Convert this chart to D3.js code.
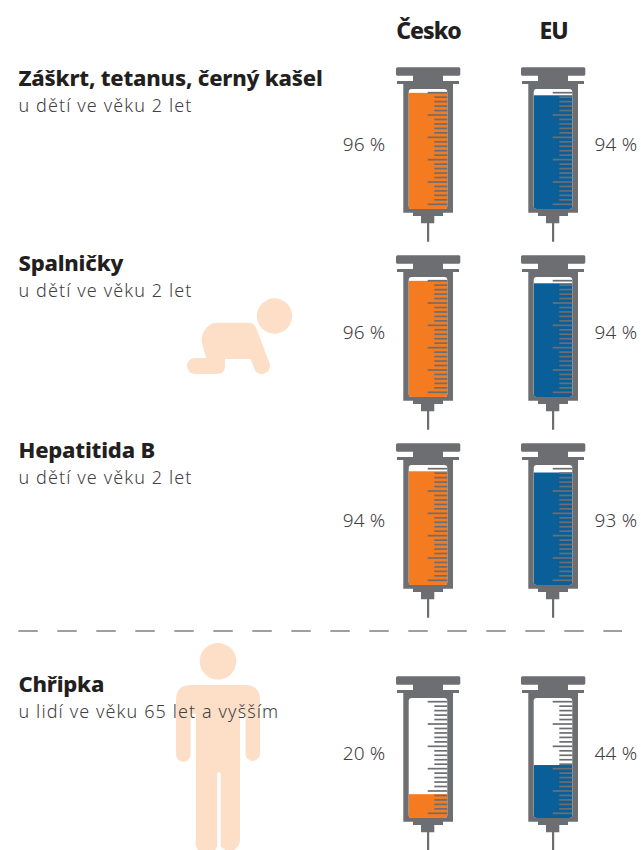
<!DOCTYPE html>
<html><head><meta charset="utf-8">
<script src="https://cdn.jsdelivr.net/npm/d3@7"></script>
<style>html,body{margin:0;padding:0;background:#fff}svg{display:block}</style>
</head><body><svg id="c" width="641" height="850"></svg>
<script>
const diseases = ["Záškrt, tetanus, černý kašel","Spalničky","Hepatitida B","Chřipka"];
const groups = ["u dětí ve věku 2 let","u dětí ve věku 2 let","u dětí ve věku 2 let","u lidí ve věku 65 let a vyšším"];
const czech = [96,96,94,20];
const eu = [94,94,93,44];
const columns = ["Česko","EU"];
const colors = ["#f47b20","#0b5f99"];
const gray = "#6d6e71", tint = "#fddfc8";
const offsets = [0,188,376,609];
const svg = d3.select("#c");
const F = "'Noto Sans',sans-serif";

// figures (behind text)
const fig = svg.append("g").attr("fill",tint);
fig.append("circle").attr("cx",274.5).attr("cy",316).attr("r",17.7);
fig.append("path").attr("d","M217 322.7H248Q254 322.7 256.5 328.5L269.2 362.5A7.9 7.9 0 0 1 254.5 369.5L250.5 359H225V366Q225 374 217 374H195A8 8 0 0 1 195 358H206L203 347Q200 337 204 331Q209 322.7 217 322.7Z");
fig.append("circle").attr("cx",218).attr("cy",661.3).attr("r",18.3);
fig.append("path").attr("d","M191 685H245Q260 685 260 700V754.5A7.3 7.3 0 0 1 245.5 754.5V716A2.6 2.6 0 0 0 240 716V840A10.5 10.5 0 0 1 220.7 846V774A1.7 1.7 0 0 0 217.3 774V846A10.5 10.5 0 0 1 196 840V716A2.6 2.6 0 0 0 190.6 716V754.5A7.3 7.3 0 0 1 176 754.5V700Q176 685 191 685Z");

// scales in the coordinates of the first syringe
const y = d3.scaleLinear().domain([0,100]).range([209.5,88]);
const tickY = d3.scaleLinear().domain([0,25]).range([204.3,92.7]);
const tickIdx = d3.range(26);
const colX = d3.scaleOrdinal().domain(columns).range([0,125]);

columns.forEach((col,ci)=>{
  const values = ci===0?czech:eu;
  const dx = colX(col);
  svg.append("text").text(col).attr("x",428.5+dx).attr("y",38.5)
    .attr("text-anchor","middle").attr("font-family",F).attr("font-weight",800)
    .attr("font-size",23).attr("letter-spacing",-1).attr("fill","#231f20");
  values.forEach((v,i)=>{
    const g = svg.append("g").attr("transform",`translate(${dx},${offsets[i]})`);
    const clipId = `c${ci}${i}`;
    g.append("clipPath").attr("id",clipId).append("rect")
      .attr("x",408.7).attr("y",89).attr("width",38.6).attr("height",120).attr("rx",3);
    // barrel
    g.append("path").attr("fill",gray).attr("d",
      "M397.5 67.3H459A1.5 1.5 0 0 1 460.3 68.8V74.2A1.5 1.5 0 0 1 459 75.7H443V81H459V84H453V212.7H443V216H434.3V223.3H429.2V241.7H427V223.3H421V216H413V212.7H403.3V84H397V81H413V75.7H397.5A1.5 1.5 0 0 1 396 74.2V68.8A1.5 1.5 0 0 1 397.5 67.3Z");
    g.append("rect").attr("x",408.7).attr("y",89).attr("width",38.6).attr("height",120).attr("rx",3).attr("fill","#fff");
    g.append("rect").attr("clip-path",`url(#${clipId})`).attr("x",408.7).attr("y",y(v))
      .attr("width",38.6).attr("height",y(0)-y(v)).attr("fill",colors[ci]);
    g.selectAll("line.t").data(tickIdx).join("line")
      .attr("x1",d=>d%5===0?427.7:434.3).attr("x2",447.3)
      .attr("y1",d=>tickY(d)).attr("y2",d=>tickY(d))
      .attr("stroke",gray).attr("stroke-width",1.7);
    g.append("text").text(v+" %").attr("font-family",F).attr("font-weight",300)
      .attr("font-size",19).attr("letter-spacing",0.2).attr("fill","#414042").attr("y",150.5)
      .attr("x",ci===0?385.5:469.5).attr("text-anchor",ci===0?"end":"start");
  });
});

diseases.forEach((d,i)=>{
  const tops=[85.5,270.5,458,691.5];
  svg.append("text").text(d).attr("x",18.5).attr("y",tops[i]).attr("font-family",F)
    .attr("font-weight",800).attr("font-size",22).attr("letter-spacing",-0.2).attr("fill","#231f20");
  svg.append("text").text(groups[i]).attr("x",18.5).attr("y",tops[i]+26).attr("font-family",F)
    .attr("font-weight",300).attr("font-size",18).attr("letter-spacing",1.1).attr("fill","#414042");
});

svg.append("line").attr("x1",18.3).attr("x2",622).attr("y1",631).attr("y2",631)
  .attr("stroke","#808080").attr("stroke-width",1.4).attr("stroke-dasharray","19.5 19.5");
</script></body></html>
